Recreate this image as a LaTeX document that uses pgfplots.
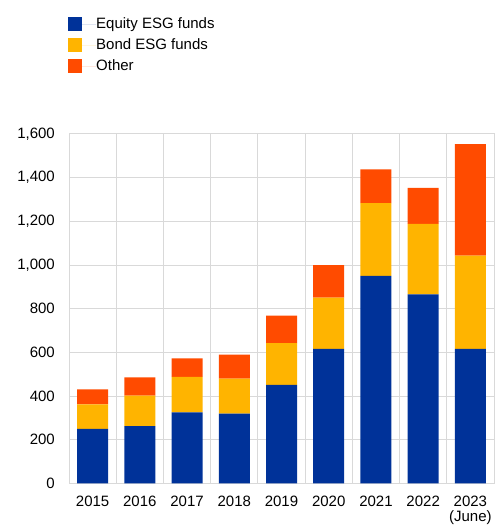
\documentclass[border=0pt]{standalone}
\usepackage{fontspec}
\setmainfont{Liberation Sans}
\usepackage{pgfplots}
\pgfplotsset{compat=1.18}
\definecolor{ecbblue}{HTML}{003299}
\definecolor{ecbyellow}{HTML}{FFB400}
\definecolor{ecborange}{HTML}{FF4B00}
\definecolor{gridgray}{HTML}{D9D9D9}
\begin{document}
\fontsize{15}{18}\selectfont
\begin{tikzpicture}
\useasboundingbox (0,0) rectangle (494pt,526pt);
\begin{axis}[
  at={(69pt,42.5pt)}, anchor=south west,
  scale only axis, width=425pt, height=349.5pt,
  ybar stacked, bar width=31pt,
  xmin=-0.5, xmax=8.5, ymin=0, ymax=1600,
  xtick={0,...,8},
  xticklabels={2015,2016,2017,2018,2019,2020,2021,2022,{2023\\[-2.5pt](June)}},
  xticklabel style={align=center, font=\fontsize{15}{18}\selectfont, yshift=-7pt},
  ytick={0,200,...,1600},
  yticklabel style={font=\fontsize{15}{18}\selectfont, xshift=-9pt},
  minor xtick={-0.5,0.5,...,8.5},
  xminorgrids=true, ymajorgrids=true, xmajorgrids=false,
  grid style={gridgray, line width=1pt},
  minor grid style={gridgray, line width=1pt},
  axis line style={gridgray, line width=1pt},
  major tick length=0pt, minor tick length=0pt,
  /pgf/number format/.cd, 1000 sep={,}, assume math mode=true, /pgfplots/.cd,
  legend style={draw=none, fill=none, at={(-0.0024,1.335)}, anchor=north west,
    inner sep=0pt, row sep=7pt, font=\fontsize{15}{18}\selectfont,
    nodes={inner sep=0pt, anchor=west}},
  legend cell align=left,
  legend image code/.code={\fill[#1,draw=none] (0pt,-7pt) rectangle (14pt,7pt); \path (0pt,0pt) -- (28pt,0pt);},
  axis on top=false,
]
\addplot[fill=ecbblue, draw=none] coordinates {(0,250) (1,263) (2,326) (3,320) (4,451) (5,616) (6,951) (7,866) (8,616)};
\addplot[fill=ecbyellow, draw=none] coordinates {(0,112) (1,139) (2,162) (3,160) (4,192) (5,235) (6,332) (7,323) (8,427)};
\addplot[fill=ecborange, draw=none] coordinates {(0,69) (1,84) (2,85) (3,110) (4,125) (5,149) (6,155) (7,164) (8,511)};
\legend{Equity ESG funds, Bond ESG funds, Other}
\end{axis}
\end{tikzpicture}
\end{document}
